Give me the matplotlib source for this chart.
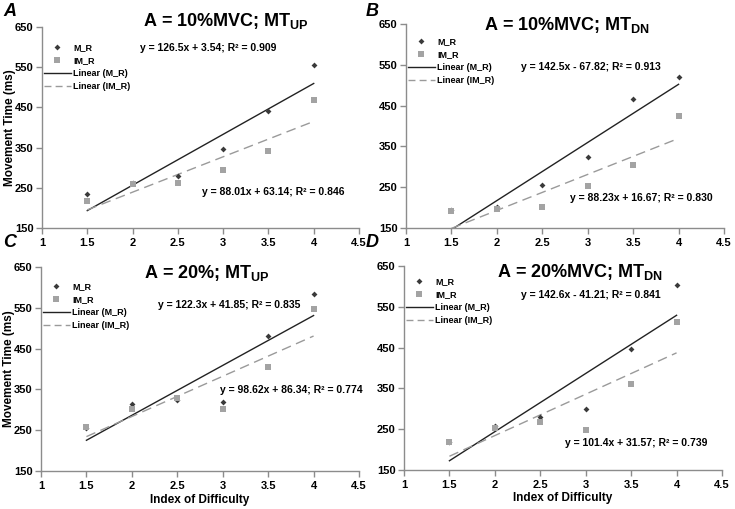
import numpy as np
import matplotlib
matplotlib.use("Agg")
import matplotlib.pyplot as plt
from matplotlib.lines import Line2D

plt.rcParams['font.family'] = ['Liberation Sans', 'DejaVu Sans']
plt.rcParams['font.weight'] = 'bold'
plt.rcParams['mathtext.fontset'] = 'custom'
plt.rcParams['mathtext.rm'] = 'Liberation Sans:bold'
plt.rcParams['mathtext.bf'] = 'Liberation Sans:bold'

# index of difficulty
ID = [1.5, 2.0, 2.5, 3.0, 3.5, 4.0]

# movement times (ms)
mr_a = [235, 262, 279, 347, 440, 556]
imr_a = [218, 260, 261, 294, 342, 468]
mr_b = [193, 201, 256, 323, 466, 520]
imr_b = [191, 196, 201, 254, 305, 424]
mr_c = [255, 313, 324, 319, 482, 584]
imr_c = [259, 301, 329, 303, 406, 548]
mr_d = [218, 257, 279, 299, 447, 604]
imr_d = [219, 252, 268, 248, 362, 513]

# trendline coefficients (slope, intercept)
fit_mr = [(126.5, 3.54), (142.5, -67.82), (122.3, 41.85), (142.6, -41.21)]
fit_imr = [(88.01, 63.14), (88.23, 16.67), (98.62, 86.34), (101.4, 31.57)]
eq_mr = ["y = 126.5x + 3.54; R² = 0.909", "y = 142.5x - 67.82; R² = 0.913",
         "y = 122.3x + 41.85; R² = 0.835", "y = 142.6x - 41.21; R² = 0.841"]
eq_imr = ["y = 88.01x + 63.14; R² = 0.846", "y = 88.23x + 16.67; R² = 0.830",
          "y = 98.62x + 86.34; R² = 0.774", "y = 101.4x + 31.57; R² = 0.739"]
titles = [r"A = 10%MVC; MT$_{\mathrm{UP}}$", r"A = 10%MVC; MT$_{\mathrm{DN}}$",
          r"A = 20%; MT$_{\mathrm{UP}}$", r"A = 20%MVC; MT$_{\mathrm{DN}}$"]
letters = ["A", "B", "C", "D"]

mr = [mr_a, mr_b, mr_c, mr_d]
imr = [imr_a, imr_b, imr_c, imr_d]

W, H = 735, 509
boxes = [(42, 27, 359, 228), (406, 24, 724, 228), (41, 267, 359, 471), (404, 266, 722, 470)]
title_pos = [(0.58, 1.03), (0.505, 0.995), (0.523, 0.97), (0.553, 0.97)]
eq1_pos = [(2.83, 599), (3.03, 545), (3.07, 558), (3.06, 580)]
eq2_pos = [(3.55, 239), (3.59, 224), (3.75, 349), (3.56, 215)]
leg_top = [0.92, 0.935, 0.925, 0.945]
letter_pos = [(10, 12), (372, 11), (10, 243), (372, 243)]

fig = plt.figure(figsize=(W / 100, H / 100), dpi=100)
spine_col = '#8c8c8c'
x_line = np.array([1.5, 4.0])

for i in range(4):
    l, t, r, b = boxes[i]
    ax = fig.add_axes([l / W, 1 - b / H, (r - l) / W, (b - t) / H])
    s, c = fit_mr[i]
    ax.plot(x_line, s * x_line + c, color='#222222', lw=1.0, zorder=2)
    s, c = fit_imr[i]
    ax.plot(x_line, s * x_line + c, color='#9a9a9a', lw=1.0, ls=(0, (7, 4)), zorder=2)
    ax.plot(ID, mr[i], 'D', color='#3a3a3a', ms=3, mew=0, zorder=3)
    ax.plot(ID, imr[i], 's', color='#a3a3a3', ms=5, mew=0, zorder=4)

    ax.set_xlim(1, 4.5)
    ax.set_ylim(150, 650)
    ax.set_xticks(np.arange(1, 4.51, 0.5))
    ax.set_xticklabels(["1", "1.5", "2", "2.5", "3", "3.5", "4", "4.5"])
    ax.set_yticks(np.arange(150, 651, 100))
    for sp in ['top', 'right']:
        ax.spines[sp].set_visible(False)
    for sp in ['left', 'bottom']:
        ax.spines[sp].set_color(spine_col)
        ax.spines[sp].set_linewidth(1.0)
    ax.tick_params(length=4, width=1, color=spine_col, labelsize=8, pad=3)
    ax.tick_params(axis='y', pad=2)
    for lab in ax.get_xticklabels() + ax.get_yticklabels():
        lab.set_fontweight('bold')

    ax.text(title_pos[i][0], title_pos[i][1], titles[i], transform=ax.transAxes,
            ha='center', va='center', fontsize=13, fontweight='bold')
    ax.text(eq1_pos[i][0], eq1_pos[i][1], eq_mr[i], ha='center', va='center',
            fontsize=7.5, fontweight='bold')
    ax.text(eq2_pos[i][0], eq2_pos[i][1], eq_imr[i], ha='center', va='center',
            fontsize=7.5, fontweight='bold')

    handles = [Line2D([], [], ls='none', marker='D', color='#3a3a3a', ms=3, mew=0),
               Line2D([], [], ls='none', marker='s', color='#a3a3a3', ms=5, mew=0),
               Line2D([], [], color='#222222', lw=1.0),
               Line2D([], [], color='#9a9a9a', lw=1.0, ls=(0, (5, 3)))]
    ax.legend(handles, ["M_R", "IM_R", "Linear (M_R)", "Linear (IM_R)"],
              loc='upper left', bbox_to_anchor=(0.005, leg_top[i]),
              frameon=False, borderpad=0, borderaxespad=0,
              labelspacing=0.45, handlelength=3.0, handletextpad=0.25,
              prop={'weight': 'bold', 'size': 6.5})

    if i in (0, 2):
        ax.set_ylabel("Movement Time (ms)", fontsize=8.5, fontweight='bold')
        ax.yaxis.set_label_coords(-0.083, 0.5)
    if i in (2, 3):
        ax.set_xlabel("Index of Difficulty", fontsize=8.5, fontweight='bold', labelpad=2)

    fig.text(letter_pos[i][0] / W, 1 - letter_pos[i][1] / H, letters[i],
             fontsize=13, fontweight='bold', style='italic', ha='center', va='center')

fig.savefig("out.png", dpi=100)
